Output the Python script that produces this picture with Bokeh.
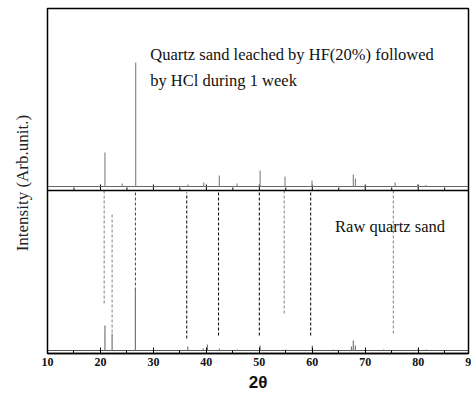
from bokeh.plotting import figure
from bokeh.models import Span, SingleIntervalTicker, FixedTicker
from bokeh.core.properties import value
from bokeh.embed import file_html
from bokeh.resources import INLINE

# ---- data (2theta in degrees, intensity in arbitrary units) ----
x_start, x_end = 10, 89.5
y_start, y_end = 0, 345
divider = 163

# upper pattern: leached quartz sand
top_base = 167
top_peak_pos = [20.85, 24.1, 26.65, 36.5, 39.5, 42.45, 45.8, 50.15, 54.85, 59.95, 67.75, 68.15, 75.65, 79.9, 81.5]
top_peak_int = [201, 170, 291, 169, 171, 178, 170, 183, 177, 173, 179, 175, 171, 169, 168.5]

# lower pattern: raw quartz sand
bot_base = 3
bot_peak_pos = [20.85, 22.2, 26.6, 36.5, 39.4, 40.2, 42.45, 45.8, 50.15, 55.0, 60.0, 64.0, 67.4, 67.75, 68.15, 73.5, 80.0, 81.5, 83.6]
bot_peak_int = [28, 20, 65, 7, 5, 9, 5, 4, 8, 4, 8, 4, 7, 13, 8, 4, 5, 4, 3.5]

# reference (dashed) lines
ref_pos = [20.7, 22.2, 26.6, 36.3, 42.3, 50.0, 54.7, 59.7, 75.3]
ref_top = [163, 140, 163, 161, 163, 163, 163, 163, 163]
ref_bottom = [50, 21, 63, 15, 18, 18, 40, 18, 20]
ref_color = ["#808080", "#808080", "#444444", "#000000", "#000000", "#000000", "#808080", "#000000", "#808080"]

top_major_ticks = [20, 30, 40, 50, 60, 70, 80]
top_minor_ticks = [15, 25, 35, 45, 55, 65, 75, 85]

label_texts = ["Quartz sand leached by HF(20%) followed", "by HCl during 1 week", "Raw quartz sand"]
label_x = [29.4, 29.4, 64.3]
label_y = [299, 273, 127]

SERIF = "Liberation Serif"

p = figure(width=471, height=397, x_range=(x_start, x_end), y_range=(y_start, y_end),
           output_backend="svg", toolbar_location=None,
           min_border_left=47, min_border_right=3, min_border_top=8, min_border_bottom=44)
p.background_fill_color = "white"
p.border_fill_color = "white"
p.xgrid.grid_line_color = None
p.ygrid.grid_line_color = None
p.outline_line_color = "black"
p.outline_line_width = 1.5
p.outline_line_alpha = 1.0

# x axis
p.xaxis.ticker = SingleIntervalTicker(interval=10, num_minor_ticks=2)
p.xaxis.major_tick_in = 6
p.xaxis.major_tick_out = 0
p.xaxis.minor_tick_in = 3
p.xaxis.minor_tick_out = 0
p.xaxis.axis_line_width = 1.5
p.xaxis.major_label_standoff = 4
p.xaxis.major_label_text_font = SERIF
p.xaxis.major_label_text_font_style = "bold"
p.xaxis.major_label_text_font_size = "12px"
p.xaxis.major_label_text_color = "#111111"
p.xaxis.axis_label = "2θ"
p.xaxis.axis_label_text_font = "Liberation Sans"
p.xaxis.axis_label_text_font_style = "bold"
p.xaxis.axis_label_text_font_size = "17px"
p.xaxis.axis_label_standoff = 4
p.xaxis.axis_label_text_color = "#111111"

# y axis (no ticks)
p.yaxis.ticker = FixedTicker(ticks=[])
p.yaxis.axis_line_color = None
p.yaxis.axis_label = "Intensity  (Arb.unit.)"
p.yaxis.axis_label_text_font = SERIF
p.yaxis.axis_label_text_font_style = "normal"
p.yaxis.axis_label_text_font_size = "17px"
p.yaxis.axis_label_text_color = "#222222"
p.yaxis.axis_label_standoff = 16

# divider between panels
p.add_layout(Span(location=divider, dimension="width", line_color="black", line_width=1.5))

# ticks on the upper panel's baseline
p.segment(x0=top_major_ticks, y0=[divider] * len(top_major_ticks), x1=top_major_ticks,
          y1=[divider + 6] * len(top_major_ticks), line_color="black", line_width=1)
p.segment(x0=top_minor_ticks, y0=[divider] * len(top_minor_ticks), x1=top_minor_ticks,
          y1=[divider + 3] * len(top_minor_ticks), line_color="black", line_width=1)

# reference dashed lines
p.segment(x0=ref_pos, y0=ref_bottom, x1=ref_pos, y1=ref_top, line_color=ref_color,
          line_width=1, line_dash="3 2")

# patterns: baselines + peaks
p.line([x_start, x_end], [top_base, top_base], line_color="#666666", line_width=1)
p.segment(x0=top_peak_pos, y0=[top_base] * len(top_peak_pos), x1=top_peak_pos, y1=top_peak_int,
          line_color="#8a8a8a", line_width=1.2)
p.line([x_start, x_end], [bot_base, bot_base], line_color="#555555", line_width=1)
p.segment(x0=bot_peak_pos, y0=[bot_base] * len(bot_peak_pos), x1=bot_peak_pos, y1=bot_peak_int,
          line_color="#777777", line_width=1.2)

# annotations as text glyphs
p.text(x=label_x, y=label_y, text=label_texts, text_font=value(SERIF),
       text_font_size="16.5px", text_color="#111111", text_baseline="alphabetic")

# partially visible "90" tick label at the right edge
p.text(x=[90], y=[-4.5], text=["90"], text_font=value(SERIF), text_font_style="bold",
       text_font_size="12px", text_color="#111111", text_align="center", text_baseline="top",
       level="overlay")

open("out.html", "w").write(file_html(p, INLINE))
